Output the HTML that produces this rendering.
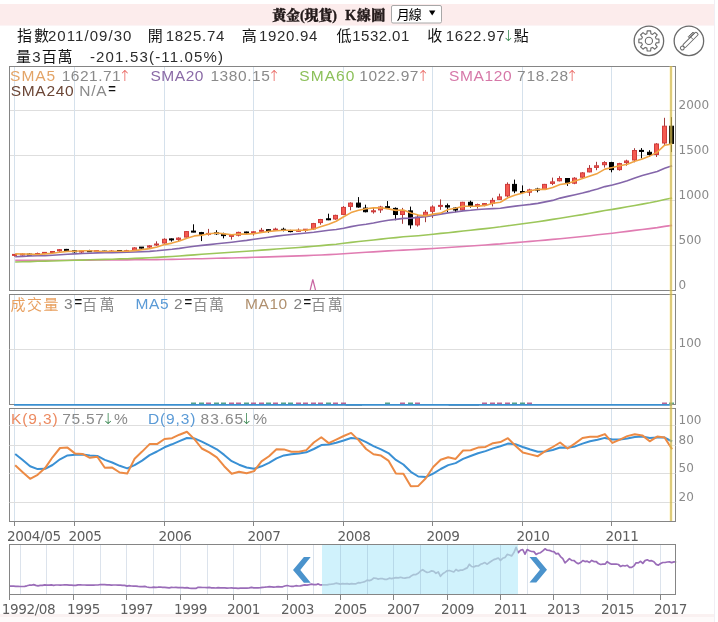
<!DOCTYPE html>
<html><head><meta charset="utf-8"><title>黃金(現貨) K線圖</title>
<style>
html,body{margin:0;padding:0;background:#fff;}
body{width:718px;height:622px;position:relative;overflow:hidden;}
.band{position:absolute;left:0;top:4px;width:714px;height:21px;background:#fcecec;border-bottom:1px solid #fcf4f5;}
.bband{position:absolute;left:0;top:614px;width:714px;height:3px;background:#faf1f1;}
.bband2{position:absolute;left:0;top:617px;width:714px;height:5px;background:#fefafa;}
.vline{position:absolute;left:714px;top:0;width:1px;height:622px;background:#f1eef4;}
svg{position:absolute;left:0;top:0;}

.ax12{font-family:"DejaVu Sans", "Noto Sans CJK SC", sans-serif;font-size:12px;fill:#8a8a8a;}
.ax13{font-family:"DejaVu Sans", "Noto Sans CJK SC", sans-serif;font-size:13.6px;letter-spacing:-0.4px;fill:#5e5e5e;}
.lg{font-family:"Liberation Sans", "Noto Sans CJK SC", sans-serif;font-size:15.5px;}
.lg13{font-family:"Liberation Sans", "Noto Sans CJK SC", sans-serif;font-size:13px;}
.lgc{font-family:"Liberation Sans", "Noto Sans CJK SC", sans-serif;font-size:15px;}
.arr{font-family:"DejaVu Sans", sans-serif;font-size:15px;font-weight:200;}
.eq{font-family:"Liberation Sans", "Noto Sans CJK SC", sans-serif;font-size:13px;font-weight:bold;}
.title{font-family:"Liberation Serif", "Noto Serif CJK SC", serif;font-size:14px;font-weight:900;stroke:#231a1a;stroke-width:0.35px;}
.sel{font-family:"Liberation Sans", "Noto Sans CJK SC", sans-serif;font-size:13px;}
.info{font-family:"Liberation Sans", "Noto Sans CJK SC", sans-serif;font-size:15px;font-weight:400;}
.infoL{font-family:"Liberation Sans", "Noto Sans CJK SC", sans-serif;font-size:15px;}

</style></head><body>
<div class="band"></div>
<div class="bband"></div>
<div class="bband2"></div>
<div class="vline"></div>
<svg width="718" height="622" viewBox="0 0 718 622">
<line x1="9.5" y1="245.5" x2="675.5" y2="245.5" stroke="#dedede"/>
<line x1="9.5" y1="200.5" x2="675.5" y2="200.5" stroke="#dedede"/>
<line x1="9.5" y1="155.5" x2="675.5" y2="155.5" stroke="#dedede"/>
<line x1="9.5" y1="110.5" x2="675.5" y2="110.5" stroke="#dedede"/>
<line x1="14.5" y1="67" x2="14.5" y2="290" stroke="#d5e1ec"/>
<line x1="74.5" y1="67" x2="74.5" y2="290" stroke="#d5e1ec"/>
<line x1="164.5" y1="67" x2="164.5" y2="290" stroke="#d5e1ec"/>
<line x1="253.5" y1="67" x2="253.5" y2="290" stroke="#d5e1ec"/>
<line x1="343.5" y1="67" x2="343.5" y2="290" stroke="#d5e1ec"/>
<line x1="432.5" y1="67" x2="432.5" y2="290" stroke="#d5e1ec"/>
<line x1="522.5" y1="67" x2="522.5" y2="290" stroke="#d5e1ec"/>
<line x1="611.5" y1="67" x2="611.5" y2="290" stroke="#d5e1ec"/>
<line x1="14.5" y1="295" x2="14.5" y2="404" stroke="#d5e1ec"/>
<line x1="74.5" y1="295" x2="74.5" y2="404" stroke="#d5e1ec"/>
<line x1="164.5" y1="295" x2="164.5" y2="404" stroke="#d5e1ec"/>
<line x1="253.5" y1="295" x2="253.5" y2="404" stroke="#d5e1ec"/>
<line x1="343.5" y1="295" x2="343.5" y2="404" stroke="#d5e1ec"/>
<line x1="432.5" y1="295" x2="432.5" y2="404" stroke="#d5e1ec"/>
<line x1="522.5" y1="295" x2="522.5" y2="404" stroke="#d5e1ec"/>
<line x1="611.5" y1="295" x2="611.5" y2="404" stroke="#d5e1ec"/>
<line x1="14.5" y1="409" x2="14.5" y2="521" stroke="#d5e1ec"/>
<line x1="74.5" y1="409" x2="74.5" y2="521" stroke="#d5e1ec"/>
<line x1="164.5" y1="409" x2="164.5" y2="521" stroke="#d5e1ec"/>
<line x1="253.5" y1="409" x2="253.5" y2="521" stroke="#d5e1ec"/>
<line x1="343.5" y1="409" x2="343.5" y2="521" stroke="#d5e1ec"/>
<line x1="432.5" y1="409" x2="432.5" y2="521" stroke="#d5e1ec"/>
<line x1="522.5" y1="409" x2="522.5" y2="521" stroke="#d5e1ec"/>
<line x1="611.5" y1="409" x2="611.5" y2="521" stroke="#d5e1ec"/>
<line x1="14.5" y1="254.2" x2="14.5" y2="256.6" stroke="#a33a3a"/>
<rect x="12.5" y="254.4" width="4" height="1.0" fill="#f45a50" stroke="#cf3c3c"/>
<line x1="22.5" y1="253.3" x2="22.5" y2="255.7" stroke="#a33a3a"/>
<rect x="20.5" y="254.0" width="4" height="1.0" fill="#f45a50" stroke="#cf3c3c"/>
<line x1="29.5" y1="253.1" x2="29.5" y2="255.2" stroke="#000"/>
<rect x="27.5" y="254.1" width="4" height="1.0" fill="#000" stroke="#000"/>
<line x1="37.5" y1="252.6" x2="37.5" y2="255.2" stroke="#a33a3a"/>
<rect x="35.5" y="253.5" width="4" height="1.0" fill="#f45a50" stroke="#cf3c3c"/>
<line x1="44.5" y1="252.2" x2="44.5" y2="254.3" stroke="#a33a3a"/>
<rect x="42.5" y="252.4" width="4" height="1.0" fill="#f45a50" stroke="#cf3c3c"/>
<line x1="52.5" y1="251.2" x2="52.5" y2="252.9" stroke="#a33a3a"/>
<rect x="50.5" y="251.5" width="4" height="1.0" fill="#f45a50" stroke="#cf3c3c"/>
<line x1="59.5" y1="249.0" x2="59.5" y2="251.8" stroke="#a33a3a"/>
<rect x="57.5" y="249.7" width="4" height="1.2" fill="#f45a50" stroke="#cf3c3c"/>
<line x1="66.5" y1="248.9" x2="66.5" y2="251.3" stroke="#000"/>
<rect x="64.5" y="249.4" width="4" height="1.0" fill="#000" stroke="#000"/>
<line x1="74.5" y1="250.3" x2="74.5" y2="252.7" stroke="#000"/>
<rect x="72.5" y="250.8" width="4" height="1.0" fill="#000" stroke="#000"/>
<line x1="81.5" y1="250.6" x2="81.5" y2="253.0" stroke="#a33a3a"/>
<rect x="79.5" y="251.0" width="4" height="1.0" fill="#f45a50" stroke="#cf3c3c"/>
<line x1="89.5" y1="249.8" x2="89.5" y2="251.8" stroke="#000"/>
<rect x="87.5" y="250.7" width="4" height="1.0" fill="#000" stroke="#000"/>
<line x1="96.5" y1="250.5" x2="96.5" y2="252.1" stroke="#a33a3a"/>
<rect x="94.5" y="250.6" width="4" height="1.0" fill="#f45a50" stroke="#cf3c3c"/>
<line x1="104.5" y1="250.8" x2="104.5" y2="252.7" stroke="#000"/>
<rect x="102.5" y="251.1" width="4" height="1.0" fill="#000" stroke="#000"/>
<line x1="111.5" y1="250.1" x2="111.5" y2="252.7" stroke="#a33a3a"/>
<rect x="109.5" y="251.1" width="4" height="1.0" fill="#f45a50" stroke="#cf3c3c"/>
<line x1="119.5" y1="250.7" x2="119.5" y2="252.4" stroke="#000"/>
<rect x="117.5" y="250.5" width="4" height="1.0" fill="#000" stroke="#000"/>
<line x1="126.5" y1="249.8" x2="126.5" y2="251.4" stroke="#a33a3a"/>
<rect x="124.5" y="250.7" width="4" height="1.0" fill="#f45a50" stroke="#cf3c3c"/>
<line x1="134.5" y1="247.2" x2="134.5" y2="251.1" stroke="#a33a3a"/>
<rect x="132.5" y="247.9" width="4" height="2.6" fill="#f45a50" stroke="#cf3c3c"/>
<line x1="141.5" y1="247.0" x2="141.5" y2="248.7" stroke="#000"/>
<rect x="139.5" y="247.1" width="4" height="1.0" fill="#000" stroke="#000"/>
<line x1="149.5" y1="245.2" x2="149.5" y2="248.7" stroke="#a33a3a"/>
<rect x="147.5" y="245.9" width="4" height="1.2" fill="#f45a50" stroke="#cf3c3c"/>
<line x1="156.5" y1="241.3" x2="156.5" y2="246.0" stroke="#a33a3a"/>
<rect x="154.5" y="244.0" width="4" height="1.0" fill="#f45a50" stroke="#cf3c3c"/>
<line x1="164.5" y1="238.3" x2="164.5" y2="243.7" stroke="#a33a3a"/>
<rect x="162.5" y="239.3" width="4" height="3.7" fill="#f45a50" stroke="#cf3c3c"/>
<line x1="171.5" y1="238.5" x2="171.5" y2="241.6" stroke="#000"/>
<rect x="169.5" y="238.9" width="4" height="1.0" fill="#000" stroke="#000"/>
<line x1="178.5" y1="237.3" x2="178.5" y2="241.6" stroke="#a33a3a"/>
<rect x="176.5" y="238.1" width="4" height="1.3" fill="#f45a50" stroke="#cf3c3c"/>
<line x1="186.5" y1="231.1" x2="186.5" y2="237.7" stroke="#a33a3a"/>
<rect x="184.5" y="231.6" width="4" height="5.5" fill="#f45a50" stroke="#cf3c3c"/>
<line x1="193.5" y1="224.3" x2="193.5" y2="232.3" stroke="#000"/>
<rect x="191.5" y="231.1" width="4" height="1.0" fill="#000" stroke="#000"/>
<line x1="201.5" y1="231.9" x2="201.5" y2="241.1" stroke="#000"/>
<rect x="199.5" y="232.6" width="4" height="1.7" fill="#000" stroke="#000"/>
<line x1="208.5" y1="228.9" x2="208.5" y2="235.6" stroke="#a33a3a"/>
<rect x="206.5" y="233.4" width="4" height="1.0" fill="#f45a50" stroke="#cf3c3c"/>
<line x1="216.5" y1="230.2" x2="216.5" y2="234.9" stroke="#000"/>
<rect x="214.5" y="232.8" width="4" height="1.0" fill="#000" stroke="#000"/>
<line x1="223.5" y1="232.7" x2="223.5" y2="238.4" stroke="#000"/>
<rect x="221.5" y="234.2" width="4" height="1.4" fill="#000" stroke="#000"/>
<line x1="231.5" y1="235.3" x2="231.5" y2="239.6" stroke="#a33a3a"/>
<rect x="229.5" y="235.4" width="4" height="1.0" fill="#f45a50" stroke="#cf3c3c"/>
<line x1="238.5" y1="231.7" x2="238.5" y2="236.4" stroke="#a33a3a"/>
<rect x="236.5" y="232.4" width="4" height="2.8" fill="#f45a50" stroke="#cf3c3c"/>
<line x1="246.5" y1="231.6" x2="246.5" y2="234.9" stroke="#000"/>
<rect x="244.5" y="232.0" width="4" height="1.0" fill="#000" stroke="#000"/>
<line x1="253.5" y1="231.2" x2="253.5" y2="235.6" stroke="#a33a3a"/>
<rect x="251.5" y="231.8" width="4" height="1.0" fill="#f45a50" stroke="#cf3c3c"/>
<line x1="261.5" y1="227.9" x2="261.5" y2="231.6" stroke="#a33a3a"/>
<rect x="259.5" y="230.3" width="4" height="1.0" fill="#f45a50" stroke="#cf3c3c"/>
<line x1="268.5" y1="229.3" x2="268.5" y2="232.8" stroke="#000"/>
<rect x="266.5" y="229.7" width="4" height="1.0" fill="#000" stroke="#000"/>
<line x1="275.5" y1="227.7" x2="275.5" y2="230.3" stroke="#a33a3a"/>
<rect x="273.5" y="229.1" width="4" height="1.0" fill="#f45a50" stroke="#cf3c3c"/>
<line x1="283.5" y1="227.7" x2="283.5" y2="231.4" stroke="#000"/>
<rect x="281.5" y="229.3" width="4" height="1.0" fill="#000" stroke="#000"/>
<line x1="290.5" y1="229.8" x2="290.5" y2="232.3" stroke="#000"/>
<rect x="288.5" y="230.6" width="4" height="1.0" fill="#000" stroke="#000"/>
<line x1="298.5" y1="228.5" x2="298.5" y2="231.6" stroke="#a33a3a"/>
<rect x="296.5" y="230.3" width="4" height="1.0" fill="#f45a50" stroke="#cf3c3c"/>
<line x1="305.5" y1="229.1" x2="305.5" y2="232.2" stroke="#a33a3a"/>
<rect x="303.5" y="229.2" width="4" height="1.0" fill="#f45a50" stroke="#cf3c3c"/>
<line x1="313.5" y1="222.9" x2="313.5" y2="229.9" stroke="#a33a3a"/>
<rect x="311.5" y="223.6" width="4" height="5.3" fill="#f45a50" stroke="#cf3c3c"/>
<line x1="320.5" y1="218.9" x2="320.5" y2="224.7" stroke="#a33a3a"/>
<rect x="318.5" y="219.5" width="4" height="3.1" fill="#f45a50" stroke="#cf3c3c"/>
<line x1="328.5" y1="213.7" x2="328.5" y2="220.2" stroke="#000"/>
<rect x="326.5" y="218.8" width="4" height="1.0" fill="#000" stroke="#000"/>
<line x1="335.5" y1="214.7" x2="335.5" y2="219.8" stroke="#a33a3a"/>
<rect x="333.5" y="215.4" width="4" height="3.6" fill="#f45a50" stroke="#cf3c3c"/>
<line x1="343.5" y1="206.1" x2="343.5" y2="214.9" stroke="#a33a3a"/>
<rect x="341.5" y="207.4" width="4" height="7.0" fill="#f45a50" stroke="#cf3c3c"/>
<line x1="350.5" y1="202.3" x2="350.5" y2="210.3" stroke="#a33a3a"/>
<rect x="348.5" y="203.1" width="4" height="3.3" fill="#f45a50" stroke="#cf3c3c"/>
<line x1="358.5" y1="197.1" x2="358.5" y2="207.7" stroke="#000"/>
<rect x="356.5" y="203.1" width="4" height="3.9" fill="#000" stroke="#000"/>
<line x1="365.5" y1="204.7" x2="365.5" y2="212.4" stroke="#000"/>
<rect x="363.5" y="208.1" width="4" height="3.6" fill="#000" stroke="#000"/>
<line x1="373.5" y1="207.8" x2="373.5" y2="213.6" stroke="#a33a3a"/>
<rect x="371.5" y="210.8" width="4" height="1.0" fill="#f45a50" stroke="#cf3c3c"/>
<line x1="380.5" y1="205.8" x2="380.5" y2="212.9" stroke="#a33a3a"/>
<rect x="378.5" y="207.0" width="4" height="2.9" fill="#f45a50" stroke="#cf3c3c"/>
<line x1="387.5" y1="201.1" x2="387.5" y2="208.4" stroke="#000"/>
<rect x="385.5" y="206.7" width="4" height="1.0" fill="#000" stroke="#000"/>
<line x1="395.5" y1="207.4" x2="395.5" y2="220.3" stroke="#000"/>
<rect x="393.5" y="208.4" width="4" height="6.1" fill="#000" stroke="#000"/>
<line x1="402.5" y1="207.9" x2="402.5" y2="223.8" stroke="#a33a3a"/>
<rect x="400.5" y="210.9" width="4" height="3.6" fill="#f45a50" stroke="#cf3c3c"/>
<line x1="410.5" y1="206.6" x2="410.5" y2="228.7" stroke="#000"/>
<rect x="408.5" y="210.9" width="4" height="13.9" fill="#000" stroke="#000"/>
<line x1="417.5" y1="215.1" x2="417.5" y2="226.6" stroke="#a33a3a"/>
<rect x="415.5" y="217.2" width="4" height="7.7" fill="#f45a50" stroke="#cf3c3c"/>
<line x1="425.5" y1="210.0" x2="425.5" y2="222.2" stroke="#a33a3a"/>
<rect x="423.5" y="212.3" width="4" height="3.9" fill="#f45a50" stroke="#cf3c3c"/>
<line x1="432.5" y1="205.3" x2="432.5" y2="218.0" stroke="#a33a3a"/>
<rect x="430.5" y="207.0" width="4" height="4.3" fill="#f45a50" stroke="#cf3c3c"/>
<line x1="440.5" y1="199.4" x2="440.5" y2="209.8" stroke="#a33a3a"/>
<rect x="438.5" y="205.4" width="4" height="1.0" fill="#f45a50" stroke="#cf3c3c"/>
<line x1="447.5" y1="203.5" x2="447.5" y2="212.2" stroke="#000"/>
<rect x="445.5" y="205.7" width="4" height="1.3" fill="#000" stroke="#000"/>
<line x1="455.5" y1="207.4" x2="455.5" y2="212.2" stroke="#000"/>
<rect x="453.5" y="208.1" width="4" height="1.9" fill="#000" stroke="#000"/>
<line x1="462.5" y1="201.8" x2="462.5" y2="210.7" stroke="#a33a3a"/>
<rect x="460.5" y="202.3" width="4" height="7.6" fill="#f45a50" stroke="#cf3c3c"/>
<line x1="470.5" y1="200.7" x2="470.5" y2="207.6" stroke="#000"/>
<rect x="468.5" y="202.3" width="4" height="3.8" fill="#000" stroke="#000"/>
<line x1="477.5" y1="203.6" x2="477.5" y2="208.6" stroke="#a33a3a"/>
<rect x="475.5" y="204.6" width="4" height="1.5" fill="#f45a50" stroke="#cf3c3c"/>
<line x1="484.5" y1="203.1" x2="484.5" y2="206.3" stroke="#a33a3a"/>
<rect x="482.5" y="203.6" width="4" height="1.0" fill="#f45a50" stroke="#cf3c3c"/>
<line x1="492.5" y1="197.8" x2="492.5" y2="206.4" stroke="#a33a3a"/>
<rect x="490.5" y="200.4" width="4" height="3.1" fill="#f45a50" stroke="#cf3c3c"/>
<line x1="499.5" y1="193.7" x2="499.5" y2="199.8" stroke="#a33a3a"/>
<rect x="497.5" y="196.9" width="4" height="2.5" fill="#f45a50" stroke="#cf3c3c"/>
<line x1="507.5" y1="182.4" x2="507.5" y2="197.0" stroke="#a33a3a"/>
<rect x="505.5" y="184.4" width="4" height="11.5" fill="#f45a50" stroke="#cf3c3c"/>
<line x1="514.5" y1="179.6" x2="514.5" y2="193.2" stroke="#000"/>
<rect x="512.5" y="184.4" width="4" height="6.5" fill="#000" stroke="#000"/>
<line x1="522.5" y1="185.4" x2="522.5" y2="193.3" stroke="#000"/>
<rect x="520.5" y="191.5" width="4" height="1.0" fill="#000" stroke="#000"/>
<line x1="529.5" y1="188.7" x2="529.5" y2="195.9" stroke="#a33a3a"/>
<rect x="527.5" y="189.9" width="4" height="2.3" fill="#f45a50" stroke="#cf3c3c"/>
<line x1="537.5" y1="187.8" x2="537.5" y2="192.3" stroke="#000"/>
<rect x="535.5" y="189.1" width="4" height="1.0" fill="#000" stroke="#000"/>
<line x1="544.5" y1="183.9" x2="544.5" y2="189.9" stroke="#a33a3a"/>
<rect x="542.5" y="184.4" width="4" height="4.9" fill="#f45a50" stroke="#cf3c3c"/>
<line x1="552.5" y1="177.6" x2="552.5" y2="185.1" stroke="#a33a3a"/>
<rect x="550.5" y="181.9" width="4" height="1.5" fill="#f45a50" stroke="#cf3c3c"/>
<line x1="559.5" y1="176.2" x2="559.5" y2="181.4" stroke="#a33a3a"/>
<rect x="557.5" y="178.5" width="4" height="2.3" fill="#f45a50" stroke="#cf3c3c"/>
<line x1="567.5" y1="178.0" x2="567.5" y2="185.9" stroke="#000"/>
<rect x="565.5" y="178.5" width="4" height="4.7" fill="#000" stroke="#000"/>
<line x1="574.5" y1="177.2" x2="574.5" y2="184.2" stroke="#a33a3a"/>
<rect x="572.5" y="178.2" width="4" height="5.0" fill="#f45a50" stroke="#cf3c3c"/>
<line x1="582.5" y1="172.1" x2="582.5" y2="178.1" stroke="#a33a3a"/>
<rect x="580.5" y="172.9" width="4" height="4.3" fill="#f45a50" stroke="#cf3c3c"/>
<line x1="589.5" y1="165.1" x2="589.5" y2="172.3" stroke="#a33a3a"/>
<rect x="587.5" y="168.4" width="4" height="3.5" fill="#f45a50" stroke="#cf3c3c"/>
<line x1="596.5" y1="161.8" x2="596.5" y2="170.2" stroke="#a33a3a"/>
<rect x="594.5" y="165.8" width="4" height="1.6" fill="#f45a50" stroke="#cf3c3c"/>
<line x1="604.5" y1="161.2" x2="604.5" y2="167.6" stroke="#a33a3a"/>
<rect x="602.5" y="162.6" width="4" height="2.1" fill="#f45a50" stroke="#cf3c3c"/>
<line x1="611.5" y1="161.8" x2="611.5" y2="172.3" stroke="#000"/>
<rect x="609.5" y="162.6" width="4" height="7.0" fill="#000" stroke="#000"/>
<line x1="619.5" y1="162.8" x2="619.5" y2="170.7" stroke="#a33a3a"/>
<rect x="617.5" y="163.6" width="4" height="6.0" fill="#f45a50" stroke="#cf3c3c"/>
<line x1="626.5" y1="159.7" x2="626.5" y2="165.7" stroke="#a33a3a"/>
<rect x="624.5" y="161.0" width="4" height="1.6" fill="#f45a50" stroke="#cf3c3c"/>
<line x1="634.5" y1="148.2" x2="634.5" y2="162.3" stroke="#a33a3a"/>
<rect x="632.5" y="150.5" width="4" height="9.5" fill="#f45a50" stroke="#cf3c3c"/>
<line x1="641.5" y1="148.1" x2="641.5" y2="158.4" stroke="#000"/>
<rect x="639.5" y="150.4" width="4" height="1.0" fill="#000" stroke="#000"/>
<line x1="649.5" y1="150.2" x2="649.5" y2="157.0" stroke="#000"/>
<rect x="647.5" y="152.3" width="4" height="2.2" fill="#000" stroke="#000"/>
<line x1="656.5" y1="143.1" x2="656.5" y2="157.0" stroke="#a33a3a"/>
<rect x="654.5" y="144.0" width="4" height="10.5" fill="#f45a50" stroke="#cf3c3c"/>
<line x1="664.5" y1="117.8" x2="664.5" y2="145.6" stroke="#a33a3a"/>
<rect x="662.5" y="126.2" width="4" height="16.8" fill="#f45a50" stroke="#cf3c3c"/>
<line x1="671.5" y1="117.1" x2="671.5" y2="152.1" stroke="#000"/>
<rect x="669.5" y="126.2" width="4" height="17.2" fill="#000" stroke="#000"/>
<polyline points="15.2,260.4 22.7,260.3 30.1,260.3 37.6,260.3 45.1,260.3 52.5,260.3 60.0,260.2 67.5,260.2 74.9,260.1 82.4,260.1 89.9,260.1 97.3,260.0 104.8,260.0 112.2,260.0 119.7,259.9 127.2,259.9 134.6,259.8 142.1,259.8 149.6,259.7 157.0,259.6 164.5,259.5 172.0,259.4 179.4,259.2 186.9,259.0 194.4,258.8 201.8,258.7 209.3,258.5 216.8,258.3 224.2,258.1 231.7,258.0 239.1,257.8 246.6,257.6 254.1,257.3 261.5,257.1 269.0,256.9 276.5,256.6 283.9,256.4 291.4,256.1 298.9,255.9 306.3,255.6 313.8,255.3 321.3,255.0 328.7,254.6 336.2,254.2 343.7,253.7 351.1,253.2 358.6,252.7 366.1,252.3 373.5,251.9 381.0,251.4 388.4,250.9 395.9,250.5 403.4,250.1 410.8,249.8 418.3,249.4 425.8,248.9 433.2,248.5 440.7,248.0 448.2,247.5 455.6,247.0 463.1,246.5 470.6,246.0 478.0,245.5 485.5,245.0 493.0,244.4 500.4,243.9 507.9,243.2 515.4,242.6 522.8,242.0 530.3,241.4 537.8,240.8 545.2,240.1 552.7,239.4 560.1,238.7 567.6,238.0 575.1,237.3 582.5,236.5 590.0,235.7 597.5,234.8 604.9,234.0 612.4,233.2 619.9,232.3 627.3,231.4 634.8,230.4 642.3,229.5 649.7,228.6 657.2,227.6 664.7,226.4 672.1,225.4" fill="none" stroke="#e07cb2" stroke-width="1.6" stroke-linejoin="round"/>
<polyline points="15.2,262.0 22.7,261.8 30.1,261.6 37.6,261.3 45.1,261.1 52.5,261.0 60.0,260.7 67.5,260.5 74.9,260.3 82.4,260.1 89.9,259.8 97.3,259.6 104.8,259.4 112.2,259.2 119.7,258.9 127.2,258.7 134.6,258.4 142.1,258.1 149.6,257.8 157.0,257.4 164.5,256.9 172.0,256.5 179.4,256.0 186.9,255.4 194.4,254.9 201.8,254.3 209.3,253.8 216.8,253.3 224.2,252.8 231.7,252.3 239.1,251.8 246.6,251.2 254.1,250.7 261.5,250.1 269.0,249.6 276.5,249.0 283.9,248.5 291.4,248.0 298.9,247.5 306.3,246.9 313.8,246.3 321.3,245.6 328.7,244.9 336.2,244.2 343.7,243.3 351.1,242.4 358.6,241.5 366.1,240.8 373.5,240.0 381.0,239.1 388.4,238.3 395.9,237.6 403.4,236.8 410.8,236.3 418.3,235.7 425.8,235.0 433.2,234.2 440.7,233.4 448.2,232.7 455.6,231.9 463.1,231.0 470.6,230.2 478.0,229.4 485.5,228.6 493.0,227.7 500.4,226.8 507.9,225.7 515.4,224.7 522.8,223.7 530.3,222.7 537.8,221.7 545.2,220.6 552.7,219.4 560.1,218.2 567.6,217.0 575.1,215.8 582.5,214.6 590.0,213.2 597.5,211.9 604.9,210.5 612.4,209.4 619.9,208.1 627.3,206.8 634.8,205.5 642.3,204.1 649.7,202.8 657.2,201.3 664.7,199.5 672.1,198.0" fill="none" stroke="#9cc65a" stroke-width="1.6" stroke-linejoin="round"/>
<polyline points="15.2,256.7 22.7,256.4 30.1,256.0 37.6,255.8 45.1,255.6 52.5,255.2 60.0,254.7 67.5,254.2 74.9,253.9 82.4,253.5 89.9,253.2 97.3,252.9 104.8,252.8 112.2,252.6 119.7,252.4 127.2,252.3 134.6,252.0 142.1,251.7 149.6,251.4 157.0,250.8 164.5,250.0 172.0,249.3 179.4,248.4 186.9,247.3 194.4,246.3 201.8,245.4 209.3,244.6 216.8,243.8 224.2,243.0 231.7,242.2 239.1,241.3 246.6,240.4 254.1,239.3 261.5,238.3 269.0,237.2 276.5,236.1 283.9,235.3 291.4,234.5 298.9,233.7 306.3,233.0 313.8,232.2 321.3,231.2 328.7,230.3 336.2,229.5 343.7,228.2 351.1,226.6 358.6,225.3 366.1,224.3 373.5,223.0 381.0,221.5 388.4,220.3 395.9,219.4 403.4,218.4 410.8,218.1 418.3,217.4 425.8,216.6 433.2,215.4 440.7,214.1 448.2,212.9 455.6,212.0 463.1,210.9 470.6,210.3 478.0,209.5 485.5,209.0 493.0,208.6 500.4,208.3 507.9,207.1 515.4,206.1 522.8,205.2 530.3,204.4 537.8,203.4 545.2,201.9 552.7,200.4 560.1,198.1 567.6,196.4 575.1,194.7 582.5,193.0 590.0,191.1 597.5,189.0 604.9,186.6 612.4,185.0 619.9,182.9 627.3,180.7 634.8,178.0 642.3,175.6 649.7,173.5 657.2,171.5 664.7,168.2 672.1,165.8" fill="none" stroke="#8466aa" stroke-width="1.6" stroke-linejoin="round"/>
<polyline points="15.2,253.9 22.7,254.0 30.1,254.1 37.6,254.5 45.1,253.9 52.5,253.3 60.0,252.3 67.5,251.4 74.9,251.2 82.4,250.8 89.9,250.8 97.3,251.2 104.8,251.5 112.2,251.3 119.7,251.3 127.2,251.2 134.6,250.6 142.1,249.6 149.6,248.6 157.0,247.0 164.5,244.6 172.0,243.1 179.4,241.1 186.9,238.2 194.4,235.9 201.8,235.1 209.3,233.8 216.8,233.0 224.2,233.9 231.7,234.7 239.1,234.1 246.6,234.1 254.1,233.6 261.5,232.5 269.0,231.4 276.5,230.8 283.9,230.3 291.4,230.3 298.9,230.3 306.3,230.1 313.8,229.0 321.3,226.6 328.7,224.2 336.2,221.2 343.7,216.7 351.1,212.6 358.6,210.3 366.1,208.8 373.5,207.9 381.0,207.8 388.4,208.9 395.9,210.4 403.4,210.0 410.8,213.1 418.3,215.1 425.8,215.9 433.2,214.1 440.7,213.1 448.2,209.5 455.6,208.3 463.1,206.3 470.6,206.3 478.0,206.1 485.5,205.4 493.0,203.3 500.4,202.2 507.9,197.7 515.4,195.1 522.8,192.9 530.3,190.7 537.8,189.4 545.2,189.4 552.7,187.4 560.1,184.5 567.6,183.4 575.1,180.9 582.5,178.6 590.0,175.9 597.5,173.4 604.9,169.1 612.4,167.5 619.9,165.7 627.3,164.2 634.8,161.2 642.3,159.1 649.7,156.1 657.2,152.1 664.7,145.2 672.1,144.0" fill="none" stroke="#f0a444" stroke-width="1.6" stroke-linejoin="round"/>
<polyline points="310.2,290 312.8,279.5 315.5,290" fill="none" stroke="#c866a2" stroke-width="1.2"/>
<rect x="9.5" y="66.5" width="666.0" height="224" fill="none" stroke="#858585"/>
<rect x="9.5" y="294.5" width="666.0" height="110" fill="none" stroke="#858585"/>
<rect x="9.5" y="408.5" width="666.0" height="113" fill="none" stroke="#858585"/>
<line x1="9.5" y1="349.5" x2="675.5" y2="349.5" stroke="#dedede"/>
<rect x="191" y="402.6" width="5" height="1.2" fill="#2e8a70"/>
<rect x="199" y="402.6" width="5" height="1.2" fill="#2e8a70"/>
<rect x="206" y="402.6" width="5" height="1.2" fill="#a8447a"/>
<rect x="214" y="402.6" width="5" height="1.2" fill="#2e8a70"/>
<rect x="221" y="402.6" width="5" height="1.2" fill="#2e8a70"/>
<rect x="229" y="402.6" width="5" height="1.2" fill="#a8447a"/>
<rect x="236" y="402.6" width="5" height="1.2" fill="#a8447a"/>
<rect x="244" y="402.6" width="5" height="1.2" fill="#2e8a70"/>
<rect x="251" y="402.6" width="5" height="1.2" fill="#a8447a"/>
<rect x="259" y="402.6" width="5" height="1.2" fill="#a8447a"/>
<rect x="266" y="402.6" width="5" height="1.2" fill="#2e8a70"/>
<rect x="273" y="402.6" width="5" height="1.2" fill="#a8447a"/>
<rect x="281" y="402.6" width="5" height="1.2" fill="#2e8a70"/>
<rect x="288" y="402.6" width="5" height="1.2" fill="#2e8a70"/>
<rect x="296" y="402.6" width="5" height="1.2" fill="#a8447a"/>
<rect x="303" y="402.6" width="5" height="1.2" fill="#a8447a"/>
<rect x="311" y="402.6" width="5" height="1.2" fill="#a8447a"/>
<rect x="318" y="402.6" width="5" height="1.2" fill="#a8447a"/>
<rect x="326" y="402.6" width="5" height="1.2" fill="#2e8a70"/>
<rect x="333" y="402.6" width="5" height="1.2" fill="#a8447a"/>
<rect x="341" y="402.6" width="5" height="1.2" fill="#a8447a"/>
<rect x="385" y="402.6" width="5" height="1.2" fill="#2e8a70"/>
<rect x="400" y="402.6" width="5" height="1.2" fill="#a8447a"/>
<rect x="408" y="402.6" width="5" height="1.2" fill="#2e8a70"/>
<rect x="415" y="402.6" width="5" height="1.2" fill="#a8447a"/>
<rect x="482" y="402.6" width="5" height="1.2" fill="#a8447a"/>
<rect x="490" y="402.6" width="5" height="1.2" fill="#a8447a"/>
<rect x="497" y="402.6" width="5" height="1.2" fill="#a8447a"/>
<rect x="505" y="402.6" width="5" height="1.2" fill="#a8447a"/>
<rect x="512" y="402.6" width="5" height="1.2" fill="#2e8a70"/>
<rect x="520" y="402.6" width="5" height="1.2" fill="#2e8a70"/>
<rect x="527" y="402.6" width="5" height="1.2" fill="#a8447a"/>
<rect x="662" y="402.6" width="5" height="1.2" fill="#a8447a"/>
<rect x="669" y="402.6" width="5" height="1.2" fill="#2e8a70"/>
<line x1="345.6" y1="405.2" x2="362" y2="405.2" stroke="#5a6e7c" stroke-width="1.3" stroke-opacity="0.7"/>
<line x1="448.6" y1="405.2" x2="479" y2="405.2" stroke="#5a6e7c" stroke-width="1.3" stroke-opacity="0.7"/>
<line x1="14" y1="404.9" x2="672" y2="404.9" stroke="#3a8fd0" stroke-width="1.6"/>
<line x1="9.5" y1="502.5" x2="675.5" y2="502.5" stroke="#dedede"/>
<line x1="9.5" y1="473.5" x2="675.5" y2="473.5" stroke="#dedede"/>
<line x1="9.5" y1="445.5" x2="675.5" y2="445.5" stroke="#dedede"/>
<line x1="9.5" y1="425.5" x2="675.5" y2="425.5" stroke="#dedede"/>
<polyline points="15.2,454.0 22.7,460.0 30.1,466.3 37.6,469.1 45.1,468.8 52.5,465.0 60.0,459.3 67.5,455.4 74.9,454.7 82.4,454.4 89.9,455.6 97.3,455.9 104.8,459.9 112.2,462.5 119.7,465.8 127.2,468.4 134.6,465.2 142.1,460.6 149.6,455.1 157.0,451.5 164.5,447.3 172.0,444.3 179.4,441.1 186.9,438.0 194.4,438.4 201.8,441.7 209.3,445.3 216.8,449.3 224.2,454.9 231.7,461.2 239.1,464.7 246.6,467.5 254.1,468.7 261.5,466.3 269.0,462.9 276.5,458.4 283.9,455.4 291.4,454.2 298.9,453.4 306.3,452.3 313.8,449.0 321.3,445.1 328.7,444.4 336.2,442.8 343.7,440.5 351.1,438.0 358.6,438.7 366.1,442.1 373.5,446.1 381.0,449.3 388.4,453.1 395.9,459.9 403.4,464.5 410.8,471.8 418.3,476.5 425.8,477.1 433.2,473.7 440.7,469.0 448.2,465.1 455.6,463.1 463.1,458.9 470.6,456.0 478.0,453.2 485.5,451.1 493.0,448.4 500.4,446.3 507.9,443.6 515.4,444.3 522.8,447.0 530.3,449.5 537.8,451.7 545.2,451.6 552.7,450.0 560.1,447.5 567.6,447.8 575.1,446.4 582.5,443.6 590.0,441.3 597.5,439.8 604.9,437.9 612.4,439.6 619.9,439.6 627.3,438.4 634.8,437.0 642.3,436.5 649.7,438.1 657.2,437.6 664.7,437.6 672.1,441.5" fill="none" stroke="#3a90d4" stroke-width="2" stroke-linejoin="round"/>
<polyline points="15.2,465.3 22.7,472.2 30.1,478.8 37.6,474.8 45.1,468.1 52.5,457.3 60.0,448.0 67.5,447.6 74.9,453.4 82.4,453.9 89.9,457.8 97.3,456.7 104.8,467.7 112.2,467.6 119.7,472.5 127.2,473.6 134.6,458.7 142.1,451.6 149.6,444.1 157.0,444.1 164.5,439.0 172.0,438.2 179.4,434.7 186.9,431.8 194.4,439.1 201.8,448.5 209.3,452.4 216.8,457.3 224.2,466.2 231.7,473.7 239.1,471.7 246.6,473.2 254.1,471.1 261.5,461.4 269.0,456.2 276.5,449.2 283.9,449.4 291.4,451.7 298.9,451.8 306.3,450.1 313.8,442.5 321.3,437.2 328.7,443.1 336.2,439.6 343.7,436.0 351.1,432.9 358.6,440.1 366.1,449.0 373.5,454.2 381.0,455.6 388.4,460.6 395.9,473.6 403.4,473.7 410.8,486.3 418.3,485.9 425.8,478.3 433.2,467.0 440.7,459.7 448.2,457.3 455.6,458.9 463.1,450.5 470.6,450.2 478.0,447.6 485.5,446.9 493.0,443.2 500.4,442.1 507.9,438.2 515.4,445.7 522.8,452.5 530.3,454.4 537.8,456.2 545.2,451.2 552.7,447.0 560.1,442.5 567.6,448.5 575.1,443.4 582.5,438.0 590.0,436.8 597.5,436.8 604.9,434.1 612.4,442.9 619.9,439.7 627.3,436.1 634.8,434.2 642.3,435.4 649.7,441.3 657.2,436.6 664.7,437.6 672.1,449.2" fill="none" stroke="#ec8a44" stroke-width="2" stroke-linejoin="round"/>
<rect x="669" y="66" width="4" height="455" fill="rgb(255,228,110)" fill-opacity="0.22"/>
<rect x="670" y="66" width="2" height="455" fill="rgb(203,179,71)" fill-opacity="0.66"/>
<line x1="14.5" y1="521" x2="14.5" y2="526" stroke="#858585"/>
<text x="7.0" y="541" class="ax13">2004/05</text>
<line x1="74.5" y1="521" x2="74.5" y2="526" stroke="#858585"/>
<text x="68.5" y="541" class="ax13">2005</text>
<line x1="164.5" y1="521" x2="164.5" y2="526" stroke="#858585"/>
<text x="158.5" y="541" class="ax13">2006</text>
<line x1="253.5" y1="521" x2="253.5" y2="526" stroke="#858585"/>
<text x="247.5" y="541" class="ax13">2007</text>
<line x1="343.5" y1="521" x2="343.5" y2="526" stroke="#858585"/>
<text x="337.5" y="541" class="ax13">2008</text>
<line x1="432.5" y1="521" x2="432.5" y2="526" stroke="#858585"/>
<text x="426.5" y="541" class="ax13">2009</text>
<line x1="522.5" y1="521" x2="522.5" y2="526" stroke="#858585"/>
<text x="516.5" y="541" class="ax13">2010</text>
<line x1="611.5" y1="521" x2="611.5" y2="526" stroke="#858585"/>
<text x="605.5" y="541" class="ax13">2011</text>
<text x="678.5" y="288.5" class="ax12">0</text>
<text x="678.5" y="243.5" class="ax12">500</text>
<text x="678.5" y="198.5" class="ax12">1000</text>
<text x="678.5" y="153.5" class="ax12">1500</text>
<text x="678.5" y="108.5" class="ax12">2000</text>
<text x="678.5" y="347" class="ax12">100</text>
<text x="678.5" y="423.5" class="ax12">100</text>
<text x="678.5" y="443.5" class="ax12">80</text>
<text x="678.5" y="471.5" class="ax12">50</text>
<text x="678.5" y="500.5" class="ax12">20</text>
<rect x="322" y="545" width="196" height="49" fill="#d0f2fc"/>
<line x1="20.5" y1="545" x2="20.5" y2="594" stroke="rgb(110,140,175)" stroke-opacity="0.24"/>
<line x1="46.5" y1="545" x2="46.5" y2="594" stroke="rgb(110,140,175)" stroke-opacity="0.24"/>
<line x1="73.5" y1="545" x2="73.5" y2="594" stroke="rgb(110,140,175)" stroke-opacity="0.24"/>
<line x1="100.5" y1="545" x2="100.5" y2="594" stroke="rgb(110,140,175)" stroke-opacity="0.24"/>
<line x1="126.5" y1="545" x2="126.5" y2="594" stroke="rgb(110,140,175)" stroke-opacity="0.24"/>
<line x1="153.5" y1="545" x2="153.5" y2="594" stroke="rgb(110,140,175)" stroke-opacity="0.24"/>
<line x1="180.5" y1="545" x2="180.5" y2="594" stroke="rgb(110,140,175)" stroke-opacity="0.24"/>
<line x1="207.5" y1="545" x2="207.5" y2="594" stroke="rgb(110,140,175)" stroke-opacity="0.24"/>
<line x1="233.5" y1="545" x2="233.5" y2="594" stroke="rgb(110,140,175)" stroke-opacity="0.24"/>
<line x1="260.5" y1="545" x2="260.5" y2="594" stroke="rgb(110,140,175)" stroke-opacity="0.24"/>
<line x1="287.5" y1="545" x2="287.5" y2="594" stroke="rgb(110,140,175)" stroke-opacity="0.24"/>
<line x1="313.5" y1="545" x2="313.5" y2="594" stroke="rgb(110,140,175)" stroke-opacity="0.24"/>
<line x1="340.5" y1="545" x2="340.5" y2="594" stroke="rgb(110,140,175)" stroke-opacity="0.24"/>
<line x1="367.5" y1="545" x2="367.5" y2="594" stroke="rgb(110,140,175)" stroke-opacity="0.24"/>
<line x1="393.5" y1="545" x2="393.5" y2="594" stroke="rgb(110,140,175)" stroke-opacity="0.24"/>
<line x1="420.5" y1="545" x2="420.5" y2="594" stroke="rgb(110,140,175)" stroke-opacity="0.24"/>
<line x1="447.5" y1="545" x2="447.5" y2="594" stroke="rgb(110,140,175)" stroke-opacity="0.24"/>
<line x1="473.5" y1="545" x2="473.5" y2="594" stroke="rgb(110,140,175)" stroke-opacity="0.24"/>
<line x1="500.5" y1="545" x2="500.5" y2="594" stroke="rgb(110,140,175)" stroke-opacity="0.24"/>
<line x1="527.5" y1="545" x2="527.5" y2="594" stroke="rgb(110,140,175)" stroke-opacity="0.24"/>
<line x1="553.5" y1="545" x2="553.5" y2="594" stroke="rgb(110,140,175)" stroke-opacity="0.24"/>
<line x1="580.5" y1="545" x2="580.5" y2="594" stroke="rgb(110,140,175)" stroke-opacity="0.24"/>
<line x1="607.5" y1="545" x2="607.5" y2="594" stroke="rgb(110,140,175)" stroke-opacity="0.24"/>
<line x1="633.5" y1="545" x2="633.5" y2="594" stroke="rgb(110,140,175)" stroke-opacity="0.24"/>
<line x1="660.5" y1="545" x2="660.5" y2="594" stroke="rgb(110,140,175)" stroke-opacity="0.24"/>
<clipPath id="cin"><rect x="322" y="540" width="196" height="60"/></clipPath>
<clipPath id="cout"><path d="M0,540 H322 V600 H0 Z M518,540 H700 V600 H518 Z"/></clipPath>
<polyline points="9.1,586.2 11.3,586.0 13.6,586.2 15.8,586.4 18.0,586.4 20.2,586.5 22.5,586.5 24.7,586.3 26.9,585.8 29.1,585.2 31.4,585.2 33.6,584.6 35.8,585.4 38.0,585.8 40.2,585.4 42.5,585.4 44.7,584.9 46.9,585.2 49.1,585.1 51.4,584.9 53.6,585.3 55.8,585.0 58.0,585.0 60.3,585.1 62.5,585.0 64.7,584.8 66.9,584.9 69.2,585.1 71.4,585.1 73.6,585.3 75.8,585.3 78.0,584.8 80.3,584.9 82.5,585.0 84.7,585.0 86.9,585.1 89.2,585.1 91.4,585.1 93.6,585.1 95.8,585.0 98.1,585.0 100.3,584.5 102.5,584.6 104.7,584.7 107.0,584.8 109.2,584.9 111.4,585.1 113.6,585.0 115.8,585.0 118.1,585.2 120.3,585.2 122.5,585.4 124.7,585.4 127.0,586.1 129.2,585.7 131.4,586.0 133.6,586.2 135.9,586.1 138.1,586.4 140.3,586.6 142.5,586.6 144.8,586.4 147.0,587.0 149.2,587.3 151.4,587.5 153.6,587.2 155.9,587.3 158.1,587.2 160.3,587.0 162.5,587.4 164.8,587.3 167.0,587.6 169.2,587.9 171.4,587.4 173.7,587.5 175.9,587.4 178.1,587.6 180.3,587.6 182.6,587.6 184.8,587.8 187.0,587.6 189.2,588.1 191.4,588.3 193.7,588.4 195.9,588.4 198.1,587.3 200.3,587.3 202.6,587.5 204.8,587.5 207.0,587.7 209.2,587.4 211.5,587.8 213.7,587.9 215.9,588.0 218.1,587.6 220.4,587.9 222.6,587.8 224.8,587.9 227.0,588.2 229.2,588.0 231.5,587.9 233.7,588.1 235.9,588.1 238.1,588.3 240.4,588.2 242.6,588.1 244.8,588.0 247.0,588.1 249.3,587.9 251.5,587.4 253.7,587.8 255.9,587.9 258.2,587.8 260.4,587.7 262.6,587.3 264.8,587.2 267.0,587.0 269.3,586.6 271.5,586.8 273.7,587.1 275.9,586.9 278.2,586.6 280.4,586.8 282.6,586.8 284.8,586.0 287.1,585.5 289.3,586.0 291.5,586.4 293.7,586.3 295.9,585.7 298.2,586.0 300.4,585.8 302.6,585.3 304.8,584.9 307.1,585.1 309.3,584.7 311.5,584.2 313.7,584.6 316.0,584.7 318.2,583.9 320.4,585.0 322.6,584.8 324.9,584.8 327.1,584.9 329.3,584.4 331.5,584.2 333.7,583.9 336.0,583.2 338.2,583.6 340.4,584.1 342.6,583.7 344.9,583.9 347.1,583.7 349.3,584.2 351.5,583.7 353.8,583.8 356.0,583.8 358.2,582.7 360.4,582.8 362.7,582.2 364.9,581.6 367.1,580.2 369.3,580.6 371.5,579.9 373.8,578.0 376.0,578.3 378.2,579.1 380.4,578.5 382.7,578.7 384.9,579.4 387.1,579.3 389.3,578.2 391.6,578.6 393.8,578.1 396.0,577.7 398.2,577.8 400.5,577.3 402.7,577.9 404.9,578.1 407.1,577.7 409.3,577.5 411.6,575.7 413.8,574.5 416.0,574.6 418.2,573.3 420.5,571.0 422.7,569.7 424.9,571.2 427.1,572.5 429.4,572.0 431.6,570.8 433.8,571.3 436.0,573.3 438.3,572.0 440.5,576.3 442.7,573.8 444.9,572.4 447.1,570.8 449.4,570.5 451.6,571.2 453.8,572.0 456.0,569.5 458.3,570.9 460.5,570.1 462.7,570.1 464.9,568.9 467.2,567.9 469.4,564.3 471.6,566.5 473.8,566.9 476.1,565.9 478.3,566.0 480.5,564.3 482.7,563.6 484.9,562.6 487.2,564.2 489.4,562.5 491.6,561.0 493.8,559.6 496.1,558.9 498.3,558.0 500.5,560.3 502.7,558.3 505.0,557.5 507.2,554.4 509.4,555.0 511.6,555.9 513.9,552.6 516.1,547.4 518.3,552.7 520.5,550.3 522.7,549.5 525.0,554.2 527.2,549.6 529.4,550.8 531.6,551.5 533.9,551.6 536.1,554.4 538.3,553.3 540.5,552.7 542.8,550.9 545.0,548.8 547.2,550.2 549.4,550.4 551.7,551.3 553.9,551.6 556.1,553.9 558.3,553.4 560.5,556.6 562.8,558.7 565.0,562.9 567.2,560.8 569.4,558.6 571.7,560.4 573.9,560.5 576.1,562.4 578.3,563.7 580.6,562.6 582.8,560.5 585.0,561.6 587.2,561.2 589.5,562.4 591.7,560.4 593.9,561.6 596.1,561.5 598.3,563.5 600.6,564.5 602.8,564.2 605.0,564.2 607.2,561.6 609.5,563.4 611.7,564.2 613.9,564.2 616.1,564.0 618.4,564.5 620.6,566.5 622.8,565.5 625.0,566.0 627.3,565.3 629.5,567.3 631.7,567.4 633.9,565.9 636.1,562.8 638.4,562.9 640.6,561.3 642.8,563.4 645.0,560.6 647.3,559.8 649.5,560.9 651.7,560.7 653.9,561.7 656.2,564.4 658.4,565.2 660.6,563.5 662.8,562.5 665.1,562.5 667.3,562.0 669.5,561.9 671.7,562.6 673.9,561.9 676.2,562.0" fill="none" stroke="#9a6cb8" stroke-width="1.7" stroke-linejoin="round" clip-path="url(#cout)"/>
<polyline points="9.1,586.2 11.3,586.0 13.6,586.2 15.8,586.4 18.0,586.4 20.2,586.5 22.5,586.5 24.7,586.3 26.9,585.8 29.1,585.2 31.4,585.2 33.6,584.6 35.8,585.4 38.0,585.8 40.2,585.4 42.5,585.4 44.7,584.9 46.9,585.2 49.1,585.1 51.4,584.9 53.6,585.3 55.8,585.0 58.0,585.0 60.3,585.1 62.5,585.0 64.7,584.8 66.9,584.9 69.2,585.1 71.4,585.1 73.6,585.3 75.8,585.3 78.0,584.8 80.3,584.9 82.5,585.0 84.7,585.0 86.9,585.1 89.2,585.1 91.4,585.1 93.6,585.1 95.8,585.0 98.1,585.0 100.3,584.5 102.5,584.6 104.7,584.7 107.0,584.8 109.2,584.9 111.4,585.1 113.6,585.0 115.8,585.0 118.1,585.2 120.3,585.2 122.5,585.4 124.7,585.4 127.0,586.1 129.2,585.7 131.4,586.0 133.6,586.2 135.9,586.1 138.1,586.4 140.3,586.6 142.5,586.6 144.8,586.4 147.0,587.0 149.2,587.3 151.4,587.5 153.6,587.2 155.9,587.3 158.1,587.2 160.3,587.0 162.5,587.4 164.8,587.3 167.0,587.6 169.2,587.9 171.4,587.4 173.7,587.5 175.9,587.4 178.1,587.6 180.3,587.6 182.6,587.6 184.8,587.8 187.0,587.6 189.2,588.1 191.4,588.3 193.7,588.4 195.9,588.4 198.1,587.3 200.3,587.3 202.6,587.5 204.8,587.5 207.0,587.7 209.2,587.4 211.5,587.8 213.7,587.9 215.9,588.0 218.1,587.6 220.4,587.9 222.6,587.8 224.8,587.9 227.0,588.2 229.2,588.0 231.5,587.9 233.7,588.1 235.9,588.1 238.1,588.3 240.4,588.2 242.6,588.1 244.8,588.0 247.0,588.1 249.3,587.9 251.5,587.4 253.7,587.8 255.9,587.9 258.2,587.8 260.4,587.7 262.6,587.3 264.8,587.2 267.0,587.0 269.3,586.6 271.5,586.8 273.7,587.1 275.9,586.9 278.2,586.6 280.4,586.8 282.6,586.8 284.8,586.0 287.1,585.5 289.3,586.0 291.5,586.4 293.7,586.3 295.9,585.7 298.2,586.0 300.4,585.8 302.6,585.3 304.8,584.9 307.1,585.1 309.3,584.7 311.5,584.2 313.7,584.6 316.0,584.7 318.2,583.9 320.4,585.0 322.6,584.8 324.9,584.8 327.1,584.9 329.3,584.4 331.5,584.2 333.7,583.9 336.0,583.2 338.2,583.6 340.4,584.1 342.6,583.7 344.9,583.9 347.1,583.7 349.3,584.2 351.5,583.7 353.8,583.8 356.0,583.8 358.2,582.7 360.4,582.8 362.7,582.2 364.9,581.6 367.1,580.2 369.3,580.6 371.5,579.9 373.8,578.0 376.0,578.3 378.2,579.1 380.4,578.5 382.7,578.7 384.9,579.4 387.1,579.3 389.3,578.2 391.6,578.6 393.8,578.1 396.0,577.7 398.2,577.8 400.5,577.3 402.7,577.9 404.9,578.1 407.1,577.7 409.3,577.5 411.6,575.7 413.8,574.5 416.0,574.6 418.2,573.3 420.5,571.0 422.7,569.7 424.9,571.2 427.1,572.5 429.4,572.0 431.6,570.8 433.8,571.3 436.0,573.3 438.3,572.0 440.5,576.3 442.7,573.8 444.9,572.4 447.1,570.8 449.4,570.5 451.6,571.2 453.8,572.0 456.0,569.5 458.3,570.9 460.5,570.1 462.7,570.1 464.9,568.9 467.2,567.9 469.4,564.3 471.6,566.5 473.8,566.9 476.1,565.9 478.3,566.0 480.5,564.3 482.7,563.6 484.9,562.6 487.2,564.2 489.4,562.5 491.6,561.0 493.8,559.6 496.1,558.9 498.3,558.0 500.5,560.3 502.7,558.3 505.0,557.5 507.2,554.4 509.4,555.0 511.6,555.9 513.9,552.6 516.1,547.4 518.3,552.7 520.5,550.3 522.7,549.5 525.0,554.2 527.2,549.6 529.4,550.8 531.6,551.5 533.9,551.6 536.1,554.4 538.3,553.3 540.5,552.7 542.8,550.9 545.0,548.8 547.2,550.2 549.4,550.4 551.7,551.3 553.9,551.6 556.1,553.9 558.3,553.4 560.5,556.6 562.8,558.7 565.0,562.9 567.2,560.8 569.4,558.6 571.7,560.4 573.9,560.5 576.1,562.4 578.3,563.7 580.6,562.6 582.8,560.5 585.0,561.6 587.2,561.2 589.5,562.4 591.7,560.4 593.9,561.6 596.1,561.5 598.3,563.5 600.6,564.5 602.8,564.2 605.0,564.2 607.2,561.6 609.5,563.4 611.7,564.2 613.9,564.2 616.1,564.0 618.4,564.5 620.6,566.5 622.8,565.5 625.0,566.0 627.3,565.3 629.5,567.3 631.7,567.4 633.9,565.9 636.1,562.8 638.4,562.9 640.6,561.3 642.8,563.4 645.0,560.6 647.3,559.8 649.5,560.9 651.7,560.7 653.9,561.7 656.2,564.4 658.4,565.2 660.6,563.5 662.8,562.5 665.1,562.5 667.3,562.0 669.5,561.9 671.7,562.6 673.9,561.9 676.2,562.0" fill="none" stroke="#a9c3d6" stroke-width="1.7" stroke-linejoin="round" clip-path="url(#cin)"/>
<rect x="9.5" y="544.5" width="666" height="50" fill="none" stroke="#858585"/>
<polygon points="310.7,557 303.9,557 293,570 303.9,582.8 310.7,582.8 300.3,570" fill="#4b93cc"/>
<polygon points="529.5,557 536.3,557 547,569.8 536.3,582.6 529.5,582.6 540,569.8" fill="#4b93cc"/>
<line x1="9.5" y1="594" x2="9.5" y2="600" stroke="#858585"/>
<text x="1.7" y="613.8" class="ax13">1992/08</text>
<line x1="73.5" y1="594" x2="73.5" y2="600" stroke="#858585"/>
<text x="67.0" y="613.8" class="ax13">1995</text>
<line x1="126.5" y1="594" x2="126.5" y2="600" stroke="#858585"/>
<text x="120.0" y="613.8" class="ax13">1997</text>
<line x1="180.5" y1="594" x2="180.5" y2="600" stroke="#858585"/>
<text x="174.0" y="613.8" class="ax13">1999</text>
<line x1="233.5" y1="594" x2="233.5" y2="600" stroke="#858585"/>
<text x="227.0" y="613.8" class="ax13">2001</text>
<line x1="287.5" y1="594" x2="287.5" y2="600" stroke="#858585"/>
<text x="281.0" y="613.8" class="ax13">2003</text>
<line x1="340.5" y1="594" x2="340.5" y2="600" stroke="#858585"/>
<text x="334.0" y="613.8" class="ax13">2005</text>
<line x1="393.5" y1="594" x2="393.5" y2="600" stroke="#858585"/>
<text x="387.0" y="613.8" class="ax13">2007</text>
<line x1="447.5" y1="594" x2="447.5" y2="600" stroke="#858585"/>
<text x="441.0" y="613.8" class="ax13">2009</text>
<line x1="500.5" y1="594" x2="500.5" y2="600" stroke="#858585"/>
<text x="494.0" y="613.8" class="ax13">2011</text>
<line x1="553.5" y1="594" x2="553.5" y2="600" stroke="#858585"/>
<text x="547.0" y="613.8" class="ax13">2013</text>
<line x1="607.5" y1="594" x2="607.5" y2="600" stroke="#858585"/>
<text x="601.0" y="613.8" class="ax13">2015</text>
<line x1="660.5" y1="594" x2="660.5" y2="600" stroke="#858585"/>
<text x="654.0" y="613.8" class="ax13">2017</text>
<rect x="391.5" y="5.5" width="50" height="17.5" rx="1.5" fill="#fff"/>
<text x="272.2" y="19.5" class="title" fill="#231a1a" style="letter-spacing:-0.1px">黃金(現貨)</text>
<text x="345.2" y="19.5" class="title" fill="#231a1a" style="letter-spacing:0.55px">K線圖</text>
<text x="396.8" y="19" class="sel" fill="#000" style="letter-spacing:-1.1px">月線</text>
<text x="17.1" y="41" class="info" fill="#111" style="letter-spacing:1.9px">指數</text>
<text x="47.9" y="41" class="infoL" fill="#2c2c2c" style="letter-spacing:1.067px">2011/09/30</text>
<text x="147.8" y="41" class="info" fill="#111">開</text>
<text x="165.7" y="41" class="infoL" fill="#2c2c2c" style="letter-spacing:0.75px">1825.74</text>
<text x="241.8" y="41" class="info" fill="#111">高</text>
<text x="258.9" y="41" class="infoL" fill="#2c2c2c" style="letter-spacing:0.717px">1920.94</text>
<text x="336.4" y="41" class="info" fill="#111">低</text>
<text x="352.3" y="41" class="infoL" fill="#2c2c2c" style="letter-spacing:0.45px">1532.01</text>
<text x="427.3" y="41" class="info" fill="#111">收</text>
<text x="445.7" y="41" class="infoL" fill="#2c2c2c" style="letter-spacing:0.783px">1622.97</text>
<text x="502.0" y="41" class="arr" fill="#2f8048">↓</text>
<text x="513.7" y="41" class="info" fill="#111">點</text>
<text x="16.0" y="62" class="info" fill="#111">量</text>
<text x="32.3" y="61.7" class="infoL" fill="#2c2c2c">3</text>
<text x="41.7" y="62" class="info" fill="#111" style="letter-spacing:0.8px">百萬</text>
<text x="89.9" y="61.7" class="infoL" fill="#2c2c2c" style="letter-spacing:1.173px">-201.53(-11.05%)</text>
<text x="10.1" y="81" class="lg" fill="#e3a467" style="letter-spacing:0.967px">SMA5</text>
<text x="61.7" y="81" class="lg" fill="#8a8a8a" style="letter-spacing:0.5px">1621.71</text>
<text x="118.4" y="81" class="arr" fill="#e85a55">↑</text>
<text x="150.5" y="81" class="lg" fill="#8a6aa6" style="letter-spacing:0.525px">SMA20</text>
<text x="210.4" y="81" class="lg" fill="#8a8a8a" style="letter-spacing:0.567px">1380.15</text>
<text x="267.8" y="81" class="arr" fill="#e85a55">↑</text>
<text x="299.3" y="81" class="lg" fill="#8cc05a" style="letter-spacing:1.05px">SMA60</text>
<text x="359.3" y="81" class="lg" fill="#8a8a8a" style="letter-spacing:0.517px">1022.97</text>
<text x="416.8" y="81" class="arr" fill="#e85a55">↑</text>
<text x="448.9" y="81" class="lg" fill="#d678a8" style="letter-spacing:0.68px">SMA120</text>
<text x="517.1" y="81" class="lg" fill="#8a8a8a" style="letter-spacing:0.74px">718.28</text>
<text x="565.8" y="81" class="arr" fill="#e85a55">↑</text>
<text x="10.7" y="96" class="lg" fill="#6b4636" style="letter-spacing:0.7px">SMA240</text>
<text x="79.2" y="96" class="lg" fill="#8a8a8a" style="letter-spacing:0.75px">N/A</text>
<text x="108.3" y="93.3" class="eq" fill="#111">=</text>
<text x="10.5" y="309.5" class="lgc" fill="#e8a060" style="letter-spacing:1.45px">成交量</text>
<text x="64.1" y="309" class="lg" fill="#808080">3</text>
<text x="74.6" y="305.6" class="eq" fill="#111">=</text>
<text x="82.1" y="309.5" class="lgc" fill="#8a8a8a" style="letter-spacing:2.3px">百萬</text>
<text x="135.4" y="309" class="lg" fill="#5a9ad6" style="letter-spacing:0.65px">MA5</text>
<text x="174.0" y="309" class="lg" fill="#808080">2</text>
<text x="184.4" y="305.6" class="eq" fill="#111">=</text>
<text x="192.8" y="309.5" class="lgc" fill="#8a8a8a" style="letter-spacing:1.2px">百萬</text>
<text x="245.1" y="309" class="lg" fill="#b0906e" style="letter-spacing:0.533px">MA10</text>
<text x="293.4" y="309" class="lg" fill="#808080">2</text>
<text x="303.6" y="305.6" class="eq" fill="#111">=</text>
<text x="311.0" y="309.5" class="lgc" fill="#8a8a8a" style="letter-spacing:1.8px">百萬</text>
<text x="11.0" y="423.5" class="lg" fill="#ec8a60" style="letter-spacing:0.9px">K(9,3)</text>
<text x="62.3" y="423.5" class="lg" fill="#8a8a8a" style="letter-spacing:0.7px">75.57</text>
<text x="101.8" y="423.5" class="arr" fill="#2f8048">↓</text>
<text x="114.0" y="423.5" class="lg" fill="#8a8a8a">%</text>
<text x="148.0" y="423.5" class="lg" fill="#5a9ad6" style="letter-spacing:0.86px">D(9,3)</text>
<text x="200.6" y="423.5" class="lg" fill="#8a8a8a" style="letter-spacing:0.95px">83.65</text>
<text x="240.2" y="423.5" class="arr" fill="#2f8048">↓</text>
<text x="253.2" y="423.5" class="lg" fill="#8a8a8a">%</text>
<rect x="391.5" y="5.5" width="50" height="17.5" rx="1.5" fill="none" stroke="#a8a8a8"/>
<polygon points="429,10.6 435.4,10.6 432.2,15.4" fill="#000"/>
<circle cx="648.9" cy="40.9" r="14.75" fill="none" stroke="#6a6a6a" stroke-width="1.3"/>
<path d="M646.90,33.67 L647.17,30.85 L650.63,30.85 L650.90,33.67 L652.60,34.37 L654.79,32.57 L657.23,35.01 L655.43,37.20 L656.13,38.90 L658.95,39.17 L658.95,42.63 L656.13,42.90 L655.43,44.60 L657.23,46.79 L654.79,49.23 L652.60,47.43 L650.90,48.13 L650.63,50.95 L647.17,50.95 L646.90,48.13 L645.20,47.43 L643.01,49.23 L640.57,46.79 L642.37,44.60 L641.67,42.90 L638.85,42.63 L638.85,39.17 L641.67,38.90 L642.37,37.20 L640.57,35.01 L643.01,32.57 L645.20,34.37 Z" fill="none" stroke="#6a6a6a" stroke-width="1.1" stroke-linejoin="round"/>
<circle cx="648.9" cy="40.9" r="3.6" fill="none" stroke="#6a6a6a" stroke-width="1.1"/>
<circle cx="688.9" cy="40.9" r="14.75" fill="none" stroke="#6a6a6a" stroke-width="1.3"/>
<g transform="translate(688.9,40.9) rotate(-45)" fill="none" stroke="#6a6a6a">
<rect x="-7.6" y="-1.5" width="19" height="3.7" rx="1.2" stroke-width="1"/>
<line x1="4" y1="-1.5" x2="4" y2="2.2" stroke-width="0.9"/>
<rect x="2.5" y="-3.4" width="6.6" height="1.9" stroke-width="0.9"/>
<line x1="2.5" y1="-2.45" x2="9.1" y2="-2.45" stroke-width="0.7"/>
<line x1="4.15" y1="-3.4" x2="4.15" y2="-1.5" stroke-width="0.7"/>
<line x1="5.8" y1="-3.4" x2="5.8" y2="-1.5" stroke-width="0.7"/>
<line x1="7.45" y1="-3.4" x2="7.45" y2="-1.5" stroke-width="0.7"/>
<circle cx="-9.7" cy="0.4" r="1.9" stroke-width="1"/>
</g>
</svg>
</body></html>
